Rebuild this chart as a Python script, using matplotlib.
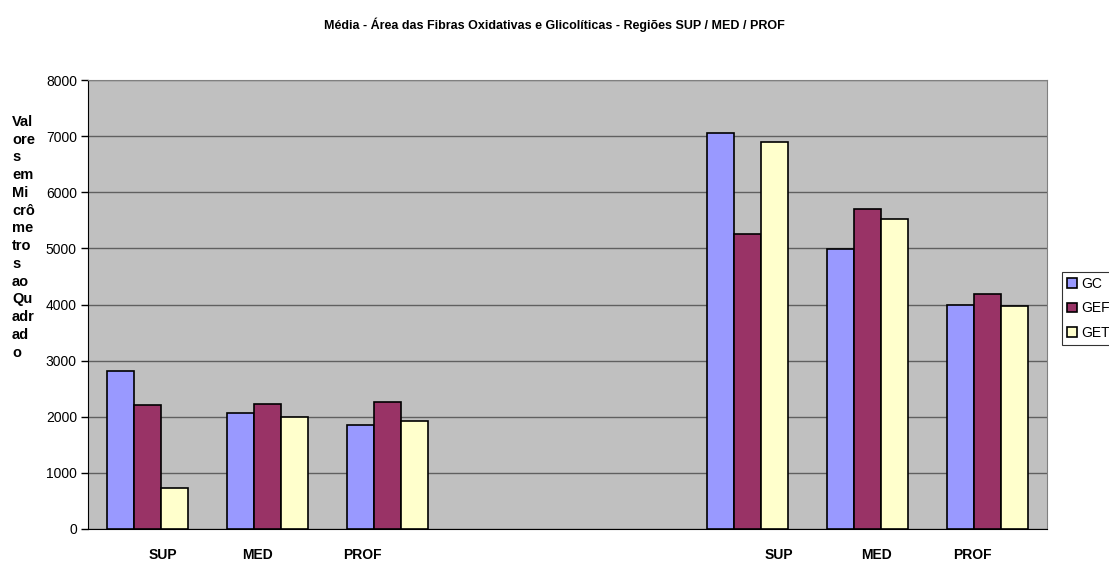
import numpy as np
import matplotlib
matplotlib.use("Agg")
import matplotlib.pyplot as plt
from matplotlib.transforms import ScaledTranslation

plt.rcParams['font.family'] = ['Liberation Sans', 'DejaVu Sans']

categories = ["SUP", "MED", "PROF", "", "", "SUP", "MED", "PROF"]
series = ["GC", "GEF", "GET"]
gc = [2810, 2060, 1850, 0, 0, 7050, 4990, 3990]
gef = [2210, 2230, 2260, 0, 0, 5250, 5700, 4180]
get = [730, 2000, 1920, 0, 0, 6890, 5520, 3970]
colors = ["#9999FF", "#993366", "#FFFFCC"]
label_shift_px = [15, -10, -25, 0, 0, 32, 9, -15]

fig = plt.figure(figsize=(11.09, 5.61), dpi=100)
ax = fig.add_axes([88/1109, 1-529/561, (1047-88)/1109, (529-80)/561])
ax.set_facecolor("#C0C0C0")

x = np.arange(len(categories))
w = 0.225
for i, (name, vals, c) in enumerate(zip(series, [gc, gef, get], colors)):
    vals = np.array(vals, dtype=float)
    mask = vals > 0
    ax.bar(x[mask] + (i-1)*w, vals[mask], width=w, color=c, edgecolor="black",
           linewidth=1.2, label=name, zorder=3)

ax.set_xlim(-0.5, len(categories)-0.5)
ax.set_ylim(0, 8000)
ax.set_yticks(np.arange(0, 8001, 1000))
ax.yaxis.grid(True, color="#606060", linewidth=1, zorder=0)
ax.set_axisbelow(True)
ax.set_xticks(x)
ax.set_xticklabels(categories, fontweight="bold", fontsize=10)
ax.tick_params(axis="x", length=0, pad=14)
ax.tick_params(axis="y", length=5, width=1, labelsize=10, pad=3)
for lab, dx in zip(ax.get_xticklabels(), label_shift_px):
    lab.set_transform(lab.get_transform() + ScaledTranslation(dx/100, 0, fig.dpi_scale_trans))

for s in ["top", "right"]:
    ax.spines[s].set_color("#808080")
ax.spines["left"].set_color("black")
ax.spines["bottom"].set_color("black")

fig.text(0.5, 1-25/561, "Média - Área das Fibras Oxidativas e Glicolíticas - Regiões SUP / MED / PROF",
         ha="center", va="center", fontsize=9, fontweight="bold")

ylabel = "\n".join(["Val", "ore", "s", "em", "Mi", "crô", "me", "tro", "s", "ao", "Qu", "adr", "ad", "o"])
fig.text(12/1109, 1-115/561, ylabel, ha="left", va="top", fontsize=10.5, fontweight="bold", linespacing=1.34)

leg = fig.legend(loc="upper left", bbox_to_anchor=(1062/1109, 1-272/561), frameon=True,
                 fontsize=10, handlelength=0.7, handleheight=0.7, handletextpad=0.3,
                 borderpad=0.35, labelspacing=0.75, borderaxespad=0, fancybox=False)
leg.get_frame().set_edgecolor("black")
leg.get_frame().set_linewidth(0.8)

fig.savefig("out.png", dpi=100)
